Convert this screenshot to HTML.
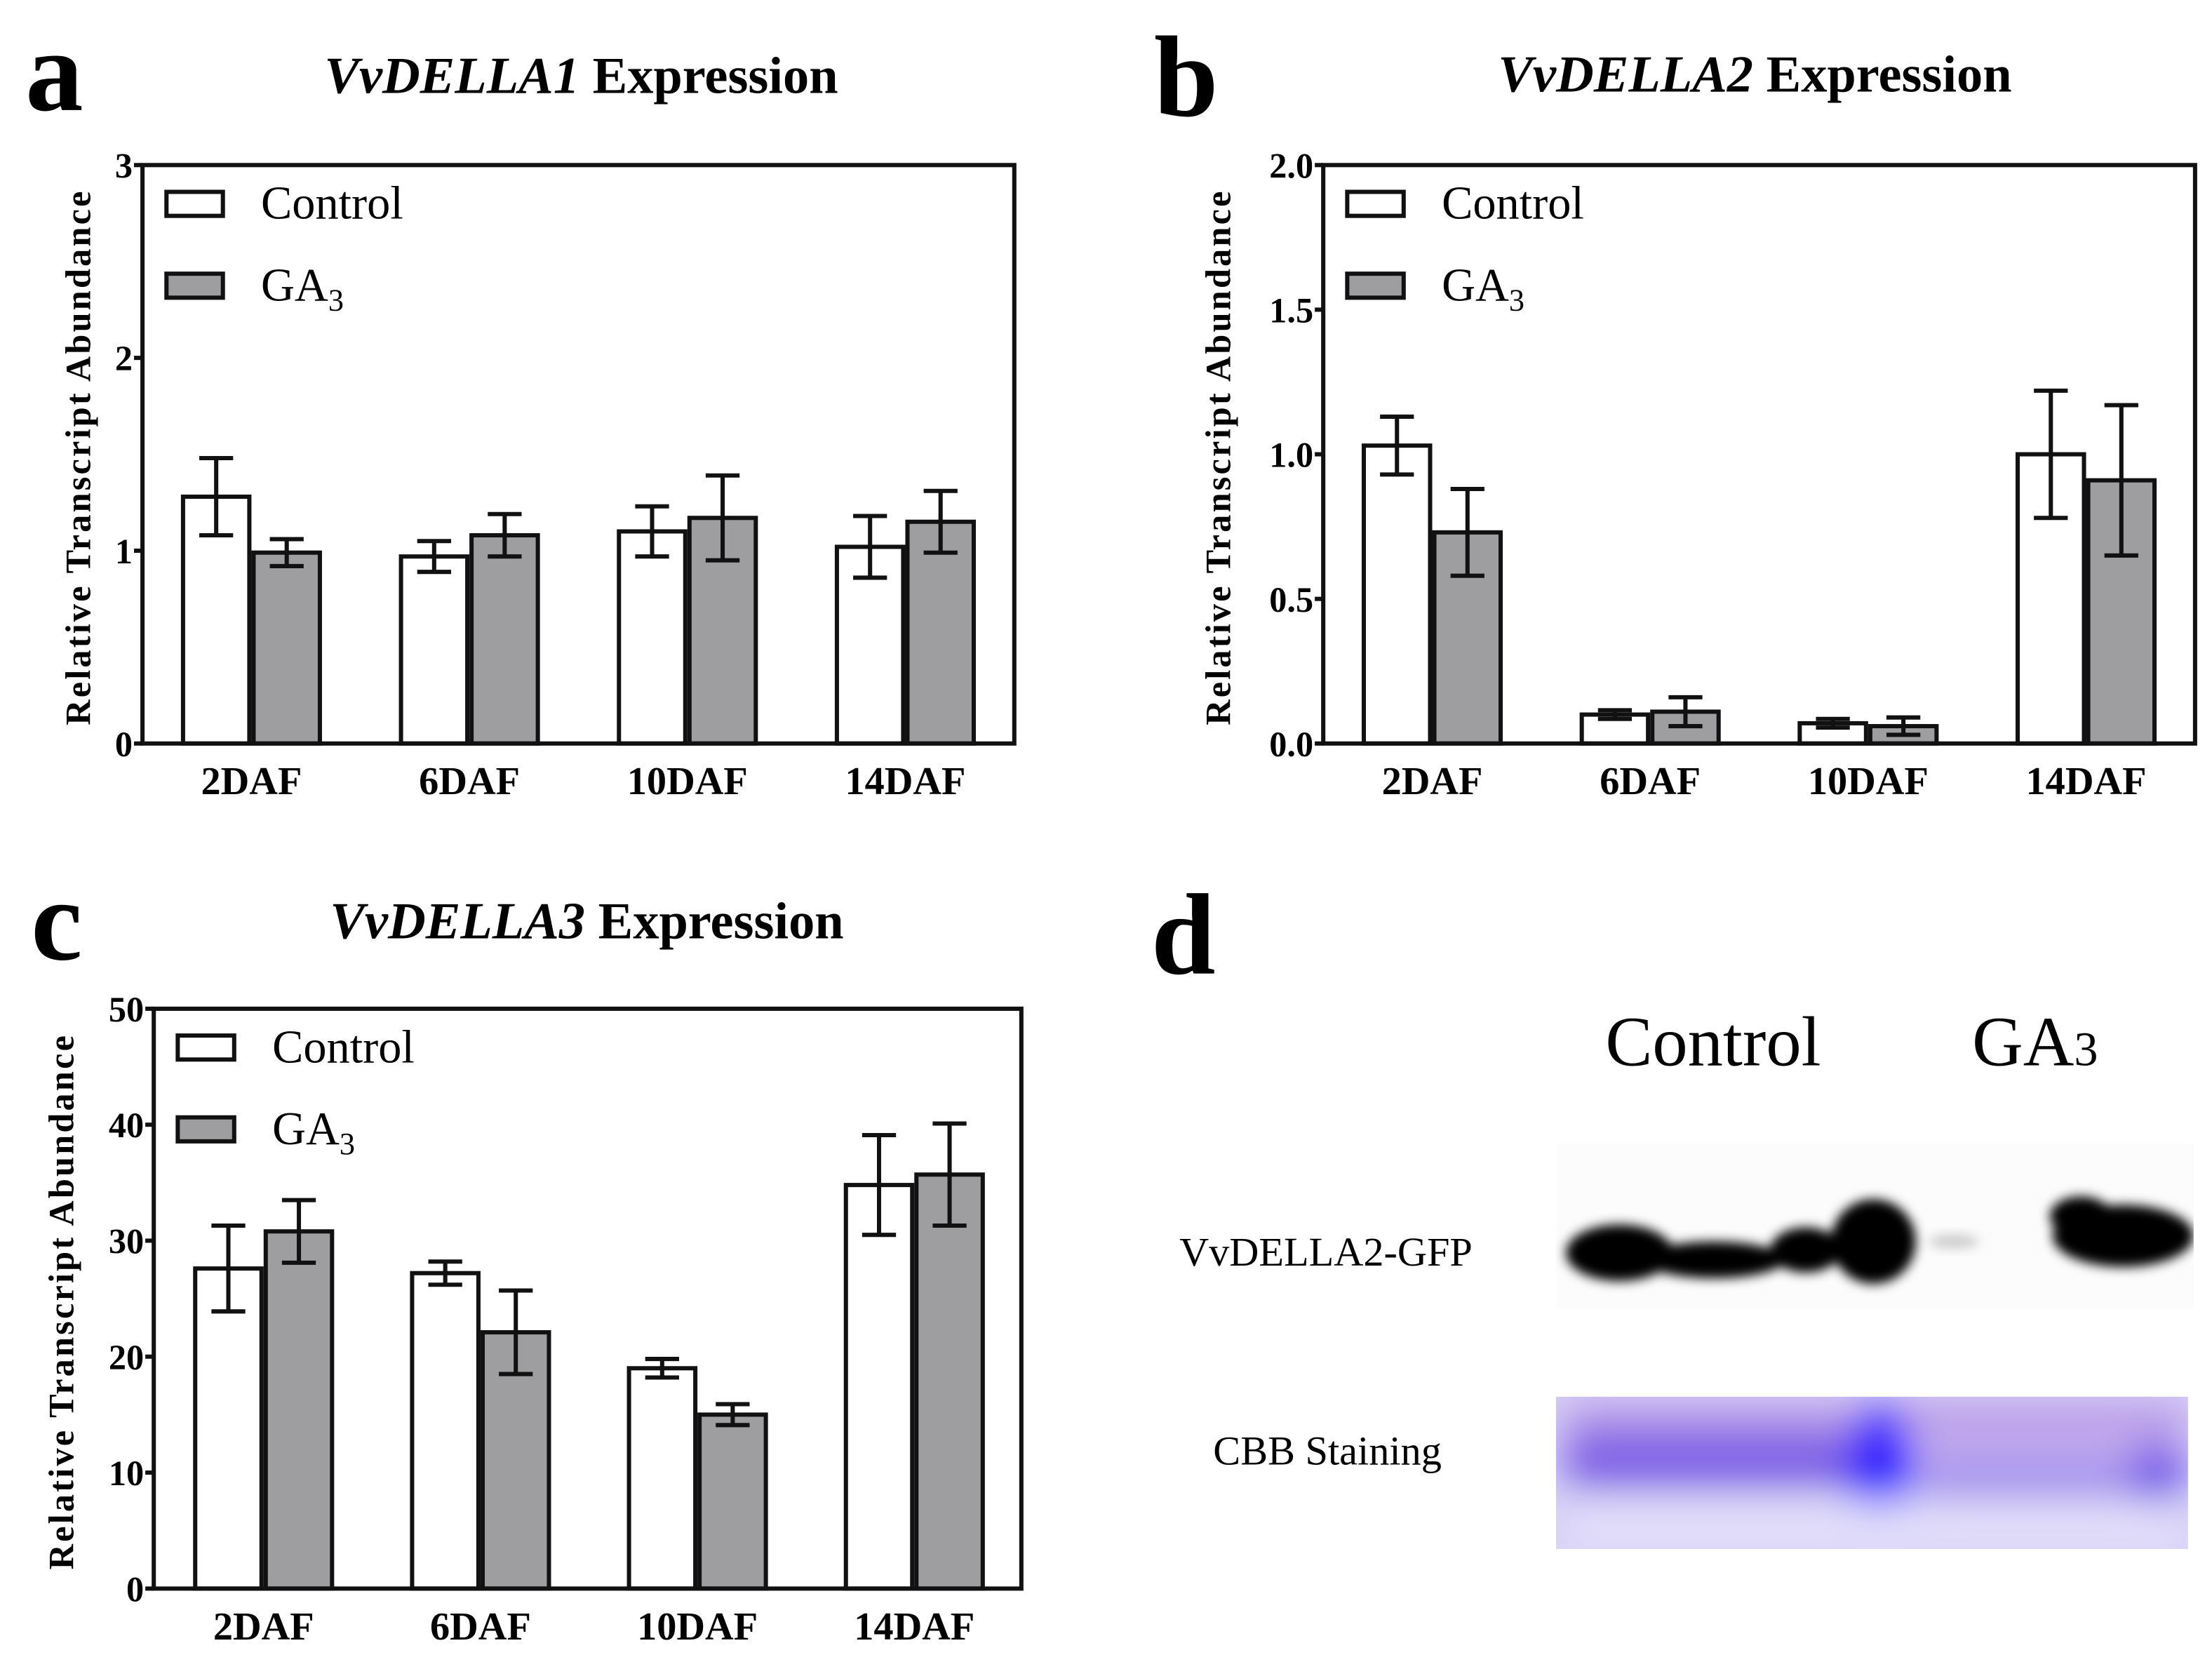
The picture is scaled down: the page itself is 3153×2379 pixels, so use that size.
<!DOCTYPE html>
<html><head><meta charset="utf-8"><style>
html,body{margin:0;padding:0;background:#fff}
svg{display:block}
text{font-family:"Liberation Serif",serif}
</style></head><body>
<svg id="fig" width="3153" height="2379" viewBox="0 0 1568 1183" preserveAspectRatio="none">
<defs>
<filter id="blur4" x="-50%" y="-50%" width="200%" height="200%"><feGaussianBlur stdDeviation="4"/></filter>
<filter id="blur15" x="-50%" y="-50%" width="200%" height="200%"><feGaussianBlur stdDeviation="14"/></filter>
<clipPath id="blotclip"><rect x="1103" y="810" width="452" height="118"/></clipPath>
<clipPath id="cbbclip"><rect x="1103" y="990" width="448" height="108"/></clipPath>
</defs>
<g id="charts"></g>
<g>
<text x="816" y="690" font-size="82" font-weight="bold">d</text>
<text x="1138" y="755" font-size="50">Control</text>
<text x="1398" y="755" font-size="50">GA<tspan font-size="34">3</tspan></text>
<text x="836" y="897" font-size="29">VvDELLA2-GFP</text>
<text x="860" y="1038" font-size="29">CBB Staining</text>
<g clip-path="url(#blotclip)">
<rect x="1103" y="810" width="452" height="118" fill="#fcfcfc"/>
<g filter="url(#blur4)" fill="#000">
<ellipse cx="1148" cy="888" rx="38" ry="20"/>
<ellipse cx="1215" cy="893" rx="50" ry="13"/>
<ellipse cx="1280" cy="886" rx="25" ry="16"/>
<ellipse cx="1328" cy="880" rx="30" ry="30"/>
<ellipse cx="1505" cy="876" rx="50" ry="22"/>
<ellipse cx="1475" cy="862" rx="22" ry="14"/>
</g>
<ellipse cx="1385" cy="880" rx="18" ry="5" fill="#ccc" filter="url(#blur4)"/>
</g>
<g clip-path="url(#cbbclip)">
<rect x="1103" y="990" width="448" height="108" fill="#d6d0f6"/>
<g filter="url(#blur15)">
<rect x="1110" y="995" width="440" height="30" fill="#b99ae8"/>
<rect x="1110" y="1015" width="230" height="40" fill="#7c5ee6"/>
<rect x="1360" y="1035" width="190" height="25" fill="#9a82ea"/>
<ellipse cx="1333" cy="1040" rx="22" ry="45" fill="#2a18ff"/>
<ellipse cx="1530" cy="1045" rx="20" ry="20" fill="#6a4fe8"/>
<rect x="1110" y="1065" width="440" height="35" fill="#e4e0fa"/>
</g>
</g>
</g>
</svg>
<script>
// ---- data ----
const categories = ["2DAF","6DAF","10DAF","14DAF"];
const seriesNames = ["Control","GA3"];
const aControl = [1.28,0.97,1.10,1.02];
const aControlErr = [0.20,0.08,0.13,0.16];
const aGA3 = [0.99,1.08,1.17,1.15];
const aGA3Err = [0.07,0.11,0.22,0.16];
const aTicks = [0,1,2,3];
const aTickLabels = ["0","1","2","3"];
const bControl = [1.03,0.10,0.07,1.00];
const bControlErr = [0.10,0.015,0.015,0.22];
const bGA3 = [0.73,0.11,0.06,0.91];
const bGA3Err = [0.15,0.05,0.03,0.26];
const bTicks = [0,0.5,1,1.5,2];
const bTickLabels = ["0.0","0.5","1.0","1.5","2.0"];
const cControl = [27.6,27.2,19.0,34.8];
const cControlErr = [3.7,1.0,0.8,4.3];
const cGA3 = [30.8,22.1,15.0,35.7];
const cGA3Err = [2.7,3.6,0.9,4.4];
const cTicks = [0,10,20,30,40,50];
const cTickLabels = ["0","10","20","30","40","50"];

const NS="http://www.w3.org/2000/svg";
const root=document.getElementById('charts');
function mk(tag,attrs,parent){const e=document.createElementNS(NS,tag);for(const k in attrs)e.setAttribute(k,attrs[k]);(parent||root).appendChild(e);return e;}

function chart(cfg){
  const g=mk('g',{});
  
  
  const L=cfg.left,R=cfg.right,T=cfg.top,B=cfg.bottom,max=cfg.max;
  const y=v=>B-(v/max)*(B-T);
  const groupW=(R-L)/4;
  const xc=i=>L+groupW*(i+0.5)+cfg.shift;
  const barW=47,gap=3;
  const lt=mk('text',{x:cfg.letterX,y:cfg.letterY,'font-size':82,'font-weight':'bold'},g);lt.textContent=cfg.id;
  
  
  const tt=mk('text',{x:cfg.titleX,y:cfg.titleY,'font-size':37,'font-weight':'bold','text-anchor':'middle'},g);
  
  
  const ts=mk('tspan',{'font-style':'italic'},tt);ts.textContent=cfg.gene;
  const ts2=mk('tspan',{},tt);ts2.textContent=' Expression';
  const series=[[cfg.ctrl,cfg.ctrlErr,'#ffffff'],[cfg.ga,cfg.gaErr,'#9e9ea0']];
  series.forEach((s,si)=>{
    categories.forEach((c,i)=>{
      const x0=si===0?xc(i)-barW-gap/2:xc(i)+gap/2;
      const r=mk('rect',{x:x0,y:y(s[0][i]),width:barW,height:B-y(s[0][i]),fill:s[2],stroke:'#111','stroke-width':3},g);
      
      
      const cx=x0+barW/2,hi=y(s[0][i]+s[1][i]),lo=y(s[0][i]-s[1][i]);
      const eb=mk('path',{d:`M${cx},${hi}V${lo}M${cx-12},${hi}H${cx+12}M${cx-12},${lo}H${cx+12}`,stroke:'#111','stroke-width':3,fill:'none'},g);
      
      
    });
  });
  const fr=mk('rect',{x:L,y:T,width:R-L,height:B-T,fill:'none',stroke:'#111','stroke-width':3},g);
  
  
  cfg.ticks.forEach((v,i)=>{
    const tk=mk('line',{x1:L-6,x2:L,y1:y(v),y2:y(v),stroke:'#111','stroke-width':3},g);
    
    
    const tl=mk('text',{x:L-7,y:y(v)+9,'font-size':25,'font-weight':'bold','text-anchor':'end'},g);
    tl.textContent=cfg.tickLabels[i];
    
    
  });
  categories.forEach((c,i)=>{
    const xl=mk('text',{x:xc(i),y:B+36,'font-size':28,'font-weight':'bold','text-anchor':'middle'},g);
    xl.textContent=c;
    
    
  });
  const yt=mk('text',{x:0,y:0,'font-size':25,'font-weight':'bold','letter-spacing':'1.6','text-anchor':'middle',transform:`translate(${cfg.yTitleX},${(T+B)/2+2}) rotate(-90)`},g);
  yt.textContent='Relative Transcript Abundance';
  
  
  const lg=mk('g',{},g);
  
  
  [['Control','#ffffff',0],['GA','#9e9ea0',58]].forEach((e,k)=>{
    const sw=mk('rect',{x:L+17,y:T+19+e[2],width:40,height:17,fill:e[1],stroke:'#111','stroke-width':3},lg);
    
    
    const t=mk('text',{x:L+84,y:T+38+e[2],'font-size':33},lg);
    t.textContent=e[0];
    if(k===1){const s=mk('tspan',{'font-size':22,dy:7},t);s.textContent='3';}
    
    
  });
}
chart({id:'a',gene:'VvDELLA1',left:101,right:719,top:117,bottom:527,max:3,shift:0,ctrl:aControl,ctrlErr:aControlErr,ga:aGA3,gaErr:aGA3Err,ticks:aTicks,tickLabels:aTickLabels,letterX:18,letterY:78,titleX:412,titleY:66,yTitleX:64});
chart({id:'b',gene:'VvDELLA2',left:938,right:1556,top:117,bottom:527,max:2,shift:0,ctrl:bControl,ctrlErr:bControlErr,ga:bGA3,gaErr:bGA3Err,ticks:bTicks,tickLabels:bTickLabels,letterX:818,letterY:82,titleX:1244,titleY:65,yTitleX:872});
chart({id:'c',gene:'VvDELLA3',left:109,right:724,top:715,bottom:1126,max:50,shift:1,ctrl:cControl,ctrlErr:cControlErr,ga:cGA3,gaErr:cGA3Err,ticks:cTicks,tickLabels:cTickLabels,letterX:22,letterY:680,titleX:416,titleY:665,yTitleX:52});
</script>
</body></html>
